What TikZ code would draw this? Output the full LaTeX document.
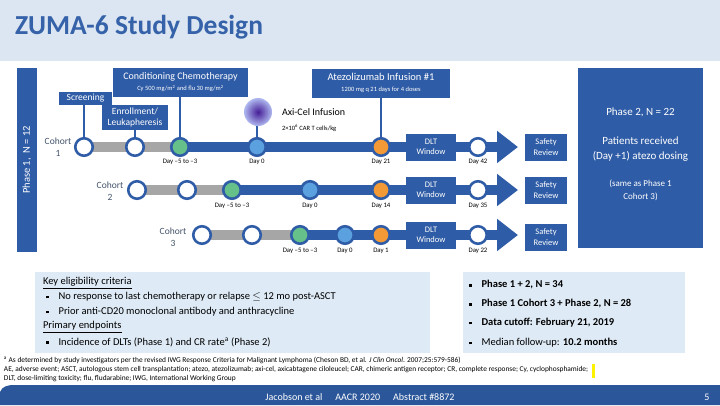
\documentclass[tikz,border=0pt]{standalone}
\usepackage{fontspec}
\setmainfont{Carlito}
\usetikzlibrary{arrows.meta,backgrounds}
\definecolor{boxblue}{HTML}{2F5CA6}
\definecolor{hdr}{HTML}{DCE6F2}
\definecolor{lbox}{HTML}{DEEAF5}
\definecolor{titleblue}{HTML}{3562A8}
\definecolor{gbar}{HTML}{A6A6A6}
\definecolor{cgreen}{HTML}{66C08A}
\definecolor{cblue}{HTML}{5BA0DF}
\definecolor{corange}{HTML}{F39A36}
\definecolor{slate}{HTML}{44546A}
\definecolor{footblue}{HTML}{2B579A}
\definecolor{hilite}{HTML}{FFF200}
\newcommand{\mybul}{\raisebox{0.28ex}{\rule{2.6pt}{2.6pt}}}
\begin{document}
\begin{tikzpicture}[x=1pt,y=-1pt,
  every node/.style={inner sep=0pt, outer sep=0pt},
  bx/.style={fill=boxblue, text=white, align=center, inner sep=1pt},
  circ/.style={circle, draw=boxblue, line width=2.6pt, minimum size=17.5pt, inner sep=0pt},
  emptyc/.style={circ, fill=white},
  greenc/.style={circ, fill=cgreen},
  bluec/.style={circ, fill=cblue},
  orangec/.style={circ, fill=corange},
  daylbl/.style={font=\fontsize{6.8}{8}\selectfont, anchor=north},
  cohortlbl/.style={font=\fontsize{9.5}{11.5}\selectfont, text=slate, align=center},
  conn/.style={draw=boxblue, line width=2.6pt},
  graybar/.style={draw=gbar, line width=10pt},
  bluebar/.style={draw=boxblue, line width=10pt, -{Triangle[width=31pt,length=21pt]}},
  dltbox/.style={bx, minimum width=50pt, minimum height=27pt, font=\fontsize{8.5}{10.5}\selectfont},
  safebox/.style={bx, minimum width=42pt, minimum height=27pt, font=\fontsize{8.5}{10.5}\selectfont},
  bodytxt/.style={anchor=west, font=\fontsize{10.5}{12}\selectfont},
  foot/.style={anchor=west, font=\fontsize{7.4}{8}\selectfont}
]
\useasboundingbox (0,0) rectangle (720,405);
% header
\fill[hdr] (0,0) rectangle (720,61);
\node[anchor=west, text=titleblue, font=\fontsize{27.5}{30}\selectfont\bfseries] (title) at (15,27) {ZUMA-6 Study Design};

% phase 1 bar
\node[fill=boxblue, text=white, minimum width=184pt, minimum height=20pt, rotate=90,
      font=\fontsize{10.5}{12}\selectfont] (ph1) at (27,160) {Phase 1,\ \ N = 12};

% top boxes
\node[bx, minimum width=53pt, minimum height=13pt, font=\fontsize{9.5}{11}\selectfont] (scr) at (85.5,98.5) {Screening};
\node[bx, minimum width=135pt, minimum height=29pt, font=\fontsize{10}{12}\selectfont] (cond) at (180.5,82.5)
  {Conditioning Chemotherapy\\[-1pt]{\fontsize{6.5}{7}\selectfont Cy 500 mg/m\textsuperscript{2} and flu 30 mg/m\textsuperscript{2}}};
\node[bx, minimum width=66pt, minimum height=25pt, font=\fontsize{9.5}{11.5}\selectfont] (enr) at (135,117.5) {Enrollment/\\Leukapheresis};
\node[bx, minimum width=138pt, minimum height=29pt, font=\fontsize{10.5}{12}\selectfont] (atz) at (381,83)
  {Atezolizumab Infusion \#1\\[-1pt]{\fontsize{6.5}{7}\selectfont 1200 mg q 21 days for 4 doses}};

% cell image
\node[circle, minimum size=28pt, inner color={rgb,255:red,70;green,30;blue,150}, outer color={rgb,255:red,175;green,185;blue,240}] (cell) at (258,112) {};
\node[anchor=west, font=\fontsize{10}{12}\selectfont] (axi) at (282,112) {Axi-Cel Infusion};
\node[anchor=west, font=\fontsize{6.5}{8}\selectfont] (axisub) at (282,128) {2\texttimes10\textsuperscript{6} CAR T cells/kg};

% phase 2 box
\node[fill=boxblue, minimum width=125pt, minimum height=180pt] (ph2) at (640.5,158) {};
\node[text=white, font=\fontsize{11}{13}\selectfont] (ph2a) at (640.5,112) {Phase 2, N = 22};
\node[text=white, font=\fontsize{11}{15}\selectfont, align=center] (ph2b) at (640.5,149) {Patients received\\(Day +1) atezo dosing};
\node[text=white, font=\fontsize{9}{13}\selectfont, align=center] (ph2c) at (640.5,190) {(same as Phase 1\\Cohort 3)};

% ---- row 1
\node[emptyc] (a1) at (84,147) {};
\node[emptyc] (a2) at (135,147) {};
\node[greenc] (a3) at (180,147) {};
\node[bluec] (a4) at (257,147) {};
\node[orangec] (a5) at (381,147) {};
\node[dltbox] (dlt1) at (431,147) {DLT\\Window};
\node[emptyc] (a6) at (478,147) {};
\coordinate (t1) at (518,147);
\node[safebox] (sr1) at (546,147) {Safety\\Review};
\node[cohortlbl] (co1) at (58,147) {Cohort\\1};
\node[daylbl] at (180,159) {Day --5 to --3};
\node[daylbl] at (257,159) {Day 0};
\node[daylbl] at (381,159) {Day 21};
\node[daylbl] at (478,159) {Day 42};

% ---- row 2
\node[emptyc] (b1) at (137,190) {};
\node[emptyc] (b2) at (187,190) {};
\node[greenc] (b3) at (232,190) {};
\node[bluec] (b4) at (310,190) {};
\node[orangec] (b5) at (381,190) {};
\node[dltbox] (dlt2) at (431,190) {DLT\\Window};
\node[emptyc] (b6) at (478,190) {};
\coordinate (t2) at (518,190);
\node[safebox] (sr2) at (546,190) {Safety\\Review};
\node[cohortlbl] (co2) at (110,191) {Cohort\\2};
\node[daylbl] at (232,203) {Day --5 to --3};
\node[daylbl] at (310,203) {Day 0};
\node[daylbl] at (381,203) {Day 14};
\node[daylbl] at (478,203) {Day 35};

% ---- row 3
\node[emptyc] (c1) at (202,235) {};
\node[emptyc] (c2) at (252,235) {};
\node[greenc] (c3) at (300,235) {};
\node[bluec] (c4) at (345,235) {};
\node[orangec] (c5) at (381,235) {};
\node[dltbox] (dlt3) at (431,235) {DLT\\Window};
\node[emptyc] (c6) at (478,235) {};
\coordinate (t3) at (518,235);
\node[safebox] (sr3) at (546,237) {Safety\\Review};
\node[cohortlbl] (co3) at (173,237) {Cohort\\3};
\node[daylbl] at (300,248) {Day --5 to --3};
\node[daylbl] at (345,248) {Day 0};
\node[daylbl] at (381,248) {Day 1};
\node[daylbl] at (478,248) {Day 22};

% bars and connectors behind
\begin{scope}[on background layer]
  \draw[graybar] (a1) -- (a3);
  \draw[bluebar] (a3.center) -- (t1);
  \draw[graybar] (b1) -- (b3);
  \draw[bluebar] (b3.center) -- (t2);
  \draw[graybar] (c1) -- (c3);
  \draw[bluebar] (c3.center) -- (t3);
  \draw[conn] (scr.south -| a1) -- (a1.center);
  \draw[conn] (enr.south -| a2) -- (a2.center);
  \draw[conn] (cond.south -| a3) -- (a3.center);
  \draw[conn] (cell.center -| a4) -- (a4.center);
  \draw[conn] (atz.south -| a5) -- (a5.center);
\end{scope}

% eligibility box
\node[fill=lbox, minimum width=395pt, minimum height=81pt, anchor=north west] (elig) at (35,272) {};
\node[bodytxt] (e1) at (43,283) {\underline{Key eligibility criteria}};
\node[bodytxt] (e2) at (46,297) {\mybul\hspace{10pt}No response to last chemotherapy or relapse $\leq$ 12 mo post-ASCT};
\node[bodytxt] (e3) at (46,312) {\mybul\hspace{10pt}Prior anti-CD20 monoclonal antibody and anthracycline};
\node[bodytxt] (e4) at (43,327) {\underline{Primary endpoints}};
\node[bodytxt] (e5) at (46,342) {\mybul\hspace{10pt}Incidence of DLTs (Phase 1) and CR rate\textsuperscript{a} (Phase 2)};

% summary box
\node[fill=lbox, minimum width=222pt, minimum height=81pt, anchor=north west] (summ) at (463,272) {};
\node[bodytxt] (s1) at (469,285) {\mybul\hspace{10pt}\textbf{Phase 1 + 2, N = 34}};
\node[bodytxt] (s2) at (469,304) {\mybul\hspace{10pt}\textbf{Phase 1 Cohort 3 + Phase 2, N = 28}};
\node[bodytxt] (s3) at (469,323) {\mybul\hspace{10pt}\textbf{Data cutoff: February 21, 2019}};
\node[bodytxt] (s4) at (469,343) {\mybul\hspace{10pt}Median follow-up: \textbf{10.2 months}};

% footnotes
\node[foot] (f1) at (4,360) {\textsuperscript{a} As determined by study investigators per the revised IWG Response Criteria for Malignant Lymphoma (Cheson BD, et al. \textit{J Clin Oncol}. 2007;25:579-586)};
\node[foot] (f2) at (4,369.5) {AE, adverse event; ASCT, autologous stem cell transplantation; atezo, atezolizumab; axi-cel, axicabtagene ciloleucel; CAR, chimeric antigen receptor; CR, complete response; Cy, cyclophosphamide;};
\node[foot] (f3) at (4,379) {DLT, dose-limiting toxicity; flu, fludarabine; IWG, International Working Group};
\fill[hilite] ([xshift=4pt]f2.east |- 0,364) rectangle ([xshift=7pt]f2.east |- 0,378);

% footer
\fill[footblue] (0,405) -- (0,392) to[out=70,in=180] (14,385) -- (720,385) -- (720,405) -- cycle;
\node[text=white, font=\fontsize{10}{12}\selectfont] (cite) at (360,397) {Jacobson et al\hspace{1.3em}AACR 2020\hspace{1.3em}Abstract \#8872};
\node[text=white, font=\fontsize{10}{12}\selectfont] (pg) at (707,397) {5};
\end{tikzpicture}
\end{document}
